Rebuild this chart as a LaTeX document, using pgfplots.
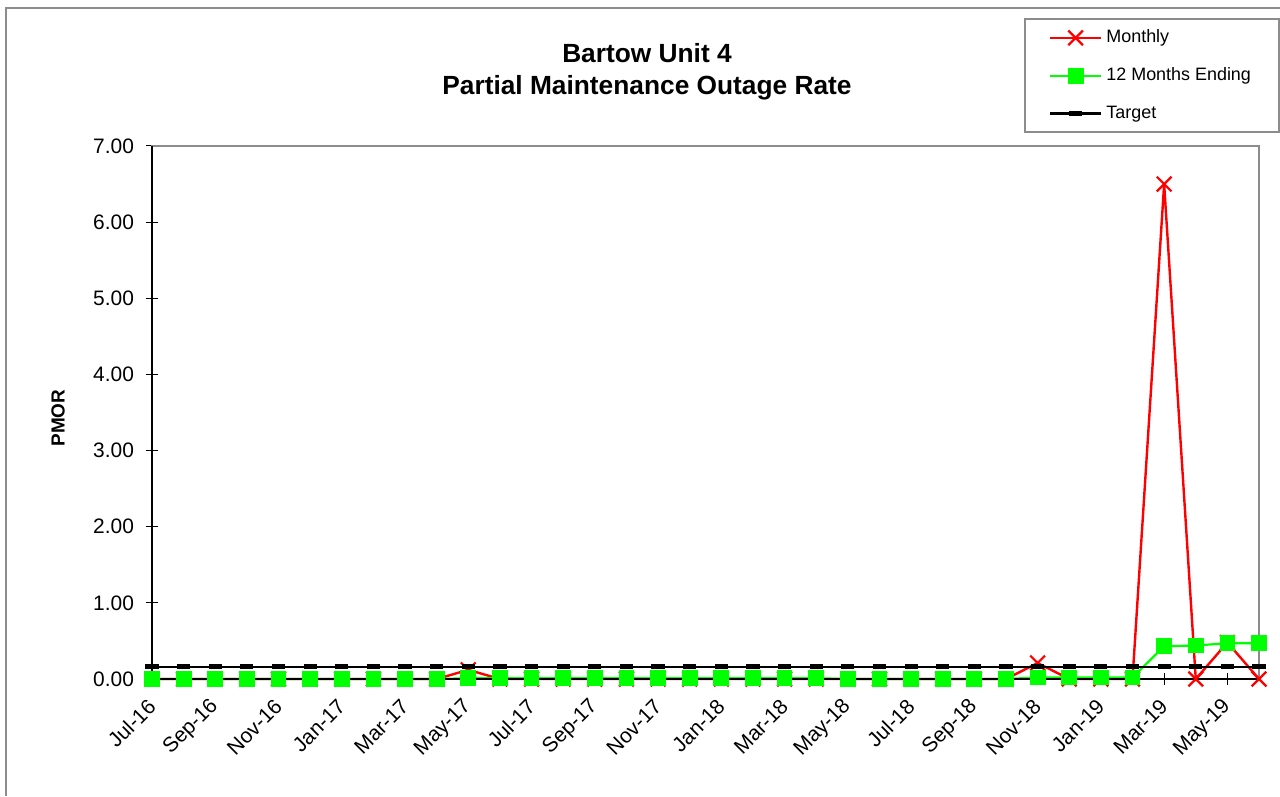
\documentclass[border=0pt]{standalone}
\usepackage{fontspec}
\setmainfont{Liberation Sans}
\usepackage{pgfplots}
\pgfplotsset{compat=1.18}
\usepackage{pgfplotstable}

\definecolor{mred}{HTML}{FF0000}
\definecolor{mgreen}{HTML}{00FF00}
\definecolor{framegray}{HTML}{8C8C8C}

% month index: 0 = Jul-16 ... 35 = Jun-19
\pgfplotstableread{
x  monthly  rolling  target
0  0     0     0.16
1  0     0     0.16
2  0     0     0.16
3  0     0     0.16
4  0     0     0.16
5  0     0     0.16
6  0     0     0.16
7  0     0     0.16
8  0     0     0.16
9  0     0     0.16
10 0.12  0.01  0.16
11 0     0.01  0.16
12 0     0.01  0.16
13 0     0.01  0.16
14 0     0.01  0.16
15 0     0.01  0.16
16 0     0.01  0.16
17 0     0.01  0.16
18 0     0.01  0.16
19 0     0.01  0.16
20 0     0.01  0.16
21 0     0.01  0.16
22 0     0     0.16
23 0     0     0.16
24 0     0     0.16
25 0     0     0.16
26 0     0     0.16
27 0     0     0.16
28 0.21  0.02  0.16
29 0     0.02  0.16
30 0     0.02  0.16
31 0     0.02  0.16
32 6.50  0.43  0.16
33 0     0.44  0.16
34 0.48  0.47  0.16
35 0     0.47  0.16
}\pmor

\begin{document}
\begin{tikzpicture}[x=1bp,y=1bp]
\useasboundingbox (0,0) rectangle (640,398);
% outer chart border
\draw[framegray, line width=1bp] (3,0) -- (3,394) -- (640,394);

\begin{axis}[
  at={(76bp,58.5bp)}, anchor=south west,
  scale only axis,
  width=553.5bp, height=266.5bp,
  xmin=0, xmax=35, ymin=0, ymax=7,
  clip=false,
  axis line style={draw=framegray, line width=1bp},
  xtick={0,2,...,34},
  xticklabels={Jul-16,Sep-16,Nov-16,Jan-17,Mar-17,May-17,Jul-17,Sep-17,Nov-17,Jan-18,Mar-18,May-18,Jul-18,Sep-18,Nov-18,Jan-19,Mar-19,May-19},
  ytick={0,1,...,7},
  yticklabel={\pgfmathprintnumber[fixed,fixed zerofill,precision=2]{\tick}},
  /pgf/number format/assume math mode=true,
  tick align=center,
  x tick style={draw=black, line width=0.5bp},
  y tick style={draw=black, line width=0.5bp},
  major tick length=6bp,
  xtick pos=bottom, ytick pos=left,
  xticklabel style={yshift=-9bp, rotate=45, anchor=east, font=\fontsize{10.5}{12}\selectfont, inner sep=0pt},
  yticklabel style={font=\fontsize{10.5}{12}\selectfont, xshift=-2.5bp},
  legend style={at={(0.7877,1.240)}, anchor=north west, draw=framegray, line width=0.8bp,
    fill=white, font=\fontsize{9}{11}\selectfont, row sep=7bp,
    inner xsep=12bp, inner ysep=3.5bp},
  legend cell align=left,
  legend image code/.code={\draw[mark repeat=2,mark phase=2] plot coordinates {(0bp,0bp) (12.75bp,0bp) (25.5bp,0bp)};},
]
\addplot[mred, line width=1.2bp, mark=x, mark size=5.2bp, mark options={line width=1.1bp}]
  table[x=x, y=monthly] {\pmor};
\addlegendentry{Monthly}
\addplot[mgreen, line width=1.1bp, mark=square*, mark size=3.7bp, mark options={line width=0pt}]
  table[x=x, y=rolling] {\pmor};
\addlegendentry{12 Months Ending}
\addplot[black, line width=1.3bp, mark=-, mark size=3.3bp, mark options={line width=2.6bp}]
  table[x=x, y=target] {\pmor};
\addlegendentry{Target}

% black value and category axes
\draw[black, line width=0.7bp] (axis cs:0,0) -- (axis cs:35,0);
\draw[black, line width=0.7bp] (axis cs:0,0) -- (axis cs:0,7);
\end{axis}

\node[font=\bfseries\fontsize{13.2}{16}\selectfont, align=center] at (323.5,362) {Bartow Unit 4\\Partial Maintenance Outage Rate};
\node[font=\bfseries\fontsize{9.5}{11}\selectfont, rotate=90] at (29,189) {PMOR};
\end{tikzpicture}
\end{document}
